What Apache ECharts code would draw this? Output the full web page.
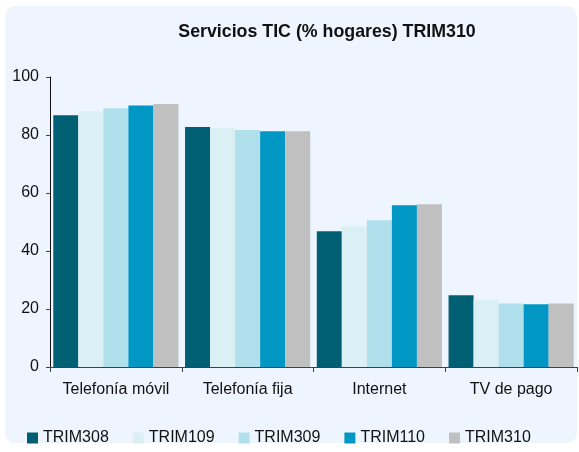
<!DOCTYPE html>
<html>
<head>
<meta charset="utf-8">
<script src="https://cdn.jsdelivr.net/npm/echarts@6/dist/echarts.min.js"></script>
<style>
  html, body { margin: 0; padding: 0; background: #ffffff; }
  #chart { width: 579px; height: 452px; }
</style>
</head>
<body>
<div id="chart"></div>
<script>
// Servicios TIC (% hogares)
const categories = ['Telefonía móvil', 'Telefonía fija', 'Internet', 'TV de pago'];
const seriesNames = ['TRIM308', 'TRIM109', 'TRIM309', 'TRIM110', 'TRIM310'];
const trim308 = [86.8, 82.8, 46.8, 24.7];
const trim109 = [88.2, 82.4, 48.5, 23.3];
const trim309 = [89.2, 81.7, 50.6, 21.9];
const trim110 = [90.2, 81.3, 55.8, 21.6];
const trim310 = [90.7, 81.3, 56.1, 21.9];
const yTicks = { min: 0, max: 100, interval: 20 };

const FONT = 'Liberation Sans, Arial, sans-serif';
const colors = ['#005f73', '#daf0f5', '#b0e0eb', '#0097c4', '#c0c0c0'];
const values = [trim308, trim109, trim309, trim110, trim310];

const chart = echarts.init(document.getElementById('chart'), null, { renderer: 'canvas' });
chart.setOption({
  animation: false,
  backgroundColor: '#ffffff',
  color: colors,
  textStyle: { fontFamily: FONT },
  graphic: [{
    type: 'rect', z: -10, silent: true,
    shape: { x: 5, y: 6, width: 572, height: 437, r: 10 },
    style: { fill: '#eef5ff' },
  }],
  title: {
    text: 'Servicios TIC (% hogares) TRIM310',
    left: 322, top: 18, textAlign: 'center',
    textStyle: { fontFamily: FONT, fontSize: 17.8, fontWeight: 'bold', color: '#111' },
  },
  legend: {
    left: 22, top: 425, itemGap: 24, icon: 'rect',
    itemWidth: 11, itemHeight: 11,
    textStyle: { fontFamily: FONT, fontSize: 16, color: '#111' },
    data: seriesNames,
  },
  grid: { left: 50, right: 2, top: 77, bottom: 85 },
  xAxis: {
    type: 'category', data: categories,
    axisLine: { lineStyle: { color: '#404040', width: 1 } },
    axisTick: { show: true, interval: 0, length: 5, lineStyle: { color: '#404040' } },
    axisLabel: { interval: 0, hideOverlap: false, fontFamily: FONT, fontSize: 16, color: '#111', margin: 15 },
    splitLine: { show: false },
  },
  yAxis: {
    type: 'value', min: yTicks.min, max: yTicks.max, interval: yTicks.interval,
    axisLine: { show: true, lineStyle: { color: '#111', width: 1 } },
    axisTick: { show: true, length: 4, lineStyle: { color: '#404040' } },
    axisLabel: { fontFamily: FONT, fontSize: 16, color: '#111', margin: 11 },
    splitLine: { show: false },
  },
  series: seriesNames.map((name, i) => ({
    name, type: 'bar', data: values[i],
    barGap: '0%', barCategoryGap: '5%',
    itemStyle: { color: colors[i] },
  })),
});
</script>
</body>
</html>
